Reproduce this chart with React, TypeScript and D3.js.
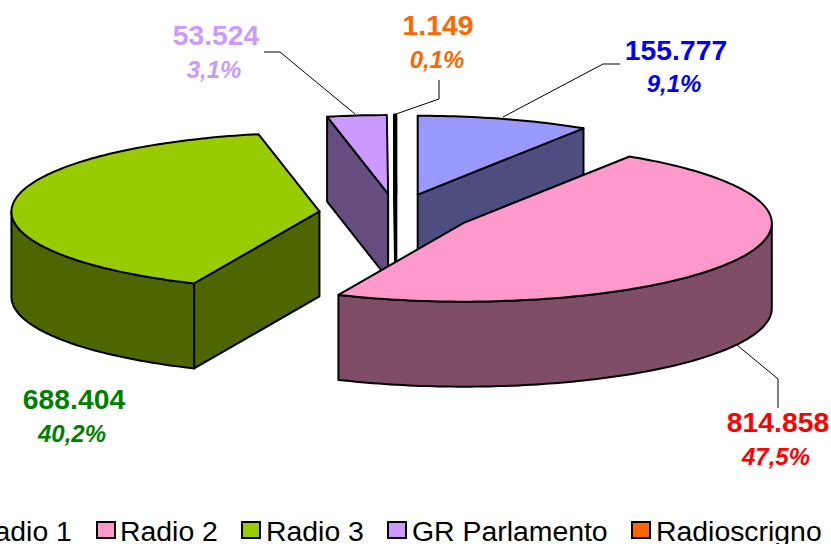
import React from "react";
import * as d3 from "d3";

const names = ["Radio 1", "Radio 2", "Radio 3", "GR Parlamento", "Radioscrigno"];
const values = [155777, 814858, 688404, 53524, 1149];
const valueLabels = ["155.777", "814.858", "688.404", "53.524", "1.149"];
const percentLabels = ["9,1%", "47,5%", "40,2%", "3,1%", "0,1%"];
const topColors = ["#9999FF", "#FF99CC", "#99CC00", "#CC99FF", "#FF6600"];
const wallColors = ["#4D4D80", "#804D66", "#4D6600", "#664D80", "#803300"];
const labelColors = ["#0000FF", "#FF0000", "#008000", "#CC99FF", "#FF6600"];

// layout (not data)
const CX = 396, CY = 213.5, RX = 308, RY = 78.8, DEPTH = 85, EXPLODE = 0.25, PERSPECTIVE = 0.005;
const drawOrder = [4, 3, 0, 2, 1];
const labelPos: [number, number, number, number][] = [
  [676, 60, 674, 92],
  [778, 432, 776, 465],
  [74, 409, 72, 442],
  [216, 45, 214, 78],
  [438, 35, 437, 68],
];
const leaders: [number, number][][] = [
  [[503, 117], [603, 64], [620, 64]],
  [[737, 345], [778, 379], [778, 408]],
  [],
  [[355, 114], [280, 52], [264, 52]],
  [[396, 114], [439, 99], [439, 80]],
];
const legendSwatchX = [-40, 97, 242, 388, 632];
const legendTextX = [-26, 120, 266, 412, 656];

const FONT = "'Liberation Sans', Arial, sans-serif";

const line = d3.line<[number, number]>();

function samples(a0: number, a1: number): number[] {
  const n = Math.max(2, Math.ceil(Math.abs(a1 - a0) / 0.02));
  return d3.range(n + 1).map((i) => a0 + ((a1 - a0) * i) / n);
}

export default function App() {
  const arcs = d3
    .pie<number>()
    .sort(null)
    .startAngle(0)
    .endAngle(2 * Math.PI)(values);

  const slices = drawOrder.map((i) => {
    const { startAngle: a0, endAngle: a1 } = arcs[i];
    const mid = (a0 + a1) / 2;
    const ox = CX + EXPLODE * RX * Math.sin(mid);
    const oy = CY - EXPLODE * RY * Math.cos(mid);
    const pt = (a: number, z = 0): [number, number] => [
      ox + RX * Math.sin(a) * (1 - PERSPECTIVE * Math.cos(a)),
      oy - RY * Math.cos(a) + z,
    ];
    const apex: [number, number] = [ox, oy];
    const apexB: [number, number] = [ox, oy + DEPTH];
    const walls: string[] = [];
    if (Math.sin(a0) < 0)
      walls.push(line([apex, pt(a0), pt(a0, DEPTH), apexB])! + "Z");
    if (Math.sin(a1) > 0)
      walls.push(line([apex, pt(a1), pt(a1, DEPTH), apexB])! + "Z");
    const r0 = Math.max(a0, Math.PI / 2);
    const r1 = Math.min(a1, (3 * Math.PI) / 2);
    if (r1 > r0) {
      const s = samples(r0, r1);
      const pts = [...s.map((a) => pt(a)), ...s.slice().reverse().map((a) => pt(a, DEPTH))];
      walls.push(line(pts)! + "Z");
    }
    const top = line([apex, ...samples(a0, a1).map((a) => pt(a))])! + "Z";
    return { i, walls, top };
  });

  return (
    <svg
      width={831}
      height={544}
      viewBox="0 0 831 544"
      style={{ position: "fixed", left: 0, top: 0, background: "#fff" }}
      fontFamily={FONT}
    >
      {slices.map((s) => (
        <g key={s.i} stroke="#000" strokeWidth={s.i === 4 ? 3 : 2} strokeLinejoin="round">
          {s.walls.map((d, k) => (
            <path key={k} d={d} fill={wallColors[s.i]} />
          ))}
          <path d={s.top} fill={topColors[s.i]} />
        </g>
      ))}
      {leaders.map((l, i) =>
        l.length ? (
          <path key={i} d={line(l)!} fill="none" stroke="#000" strokeWidth={1} />
        ) : null
      )}
      {names.map((_, i) => (
        <g key={i} textAnchor="middle" fill={labelColors[i]} fontWeight="bold">
          <text x={labelPos[i][0]} y={labelPos[i][1]} fontSize={28.3}>
            {valueLabels[i]}
          </text>
          <text x={labelPos[i][2]} y={labelPos[i][3]} fontSize={24} fontStyle="italic">
            {percentLabels[i]}
          </text>
        </g>
      ))}
      {names.map((n, i) => (
        <g key={n}>
          <rect
            x={legendSwatchX[i]}
            y={522}
            width={18}
            height={16}
            fill={topColors[i]}
            stroke="#000"
            strokeWidth={2}
          />
          <text x={legendTextX[i]} y={541} fontSize={28.4} fill="#000">
            {n}
          </text>
        </g>
      ))}
    </svg>
  );
}
